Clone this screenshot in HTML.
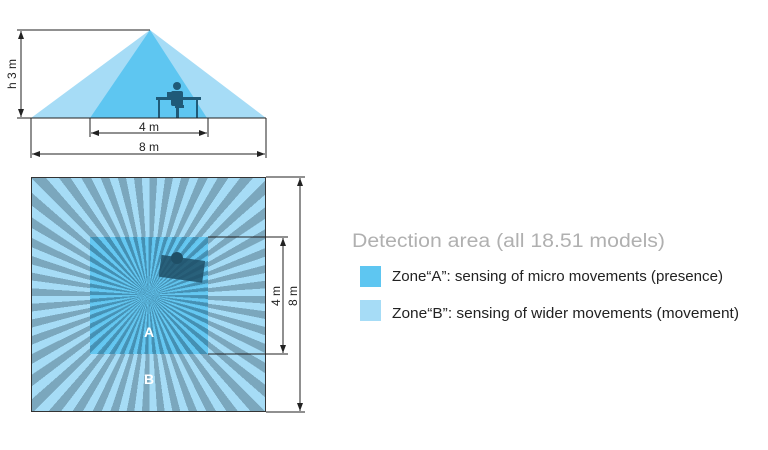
<!DOCTYPE html>
<html><head><meta charset="utf-8"><style>
body{margin:0;width:768px;height:450px;background:#fff;position:relative;overflow:hidden;font-family:"Liberation Sans",sans-serif}
#B{position:absolute;left:31px;top:177px;width:235px;height:235px;box-sizing:border-box;border:1px solid #333;
background:repeating-conic-gradient(from 0deg at 117.5px 118px,#7ba7bd 0deg 3.75deg,#a6dcf6 3.75deg 7.5deg)}
#A{position:absolute;left:90px;top:237px;width:118px;height:117px;
background:repeating-conic-gradient(from 0deg at 58.5px 58px,#3e8db2 0deg 3.75deg,#5ec6f1 3.75deg 7.5deg);opacity:.9}
svg{position:absolute;left:0;top:0}
</style></head><body>
<div id="B"></div><div id="A"></div>
<svg width="768" height="450" viewBox="0 0 768 450">
<defs><marker id="ar" markerWidth="8" markerHeight="6" refX="8" refY="3" orient="auto-start-reverse" markerUnits="userSpaceOnUse"><path d="M0,0L8,3L0,6z" fill="#222"/></marker></defs>
<polygon points="150,30 31,118 266,118" fill="#a6dcf6"/>
<polygon points="150,30 90,118 207,118" fill="#5ec6f1"/>
<g fill="#1f5a78">
<circle cx="177" cy="86" r="4"/><rect x="171" y="91" width="12" height="15" rx="2"/>
<rect x="156" y="97" width="45" height="3"/><rect x="158" y="100" width="2" height="18"/><rect x="196" y="100" width="2" height="18"/>
<rect x="167" y="92" width="7" height="6"/><rect x="175" y="105" width="9" height="3"/><rect x="176" y="108" width="3" height="10"/>
</g>
<g stroke="#222" stroke-width="1" fill="none">
<line x1="17" y1="30" x2="150" y2="30"/><line x1="17" y1="118" x2="31" y2="118"/>
<line x1="21" y1="31" x2="21" y2="117" marker-start="url(#ar)" marker-end="url(#ar)"/>
<line x1="31" y1="118" x2="266" y2="118"/>
<line x1="90" y1="118" x2="90" y2="137"/><line x1="208" y1="118" x2="208" y2="137"/>
<line x1="91" y1="133" x2="207" y2="133" marker-start="url(#ar)" marker-end="url(#ar)"/>
<line x1="31" y1="118" x2="31" y2="158"/><line x1="266" y1="118" x2="266" y2="158"/>
<line x1="32" y1="154" x2="265" y2="154" marker-start="url(#ar)" marker-end="url(#ar)"/>
<line x1="266" y1="177" x2="305" y2="177"/><line x1="266" y1="412" x2="305" y2="412"/>
<line x1="300" y1="178" x2="300" y2="411" marker-start="url(#ar)" marker-end="url(#ar)"/>
<line x1="208" y1="237" x2="288" y2="237"/><line x1="208" y1="354" x2="288" y2="354"/>
<line x1="283" y1="238" x2="283" y2="353" marker-start="url(#ar)" marker-end="url(#ar)"/>
</g>
<g font-size="12" fill="#222" font-family="Liberation Sans,sans-serif">
<text x="149" y="131" text-anchor="middle">4 m</text>
<text x="149" y="151" text-anchor="middle">8 m</text>
<text transform="translate(16,74) rotate(-90)" text-anchor="middle">h 3 m</text>
<text transform="translate(280,296) rotate(-90)" text-anchor="middle">4 m</text>
<text transform="translate(297,296) rotate(-90)" text-anchor="middle">8 m</text>
</g>
<g transform="rotate(8 183 268)"><rect x="160" y="258" width="44" height="22" fill="#1f4f66" opacity=".85"/></g>
<circle cx="177" cy="258" r="6" fill="#1f4f66"/>
<g fill="#fff" font-weight="bold" font-size="14"><text x="149" y="337" text-anchor="middle">A</text><text x="149" y="384" text-anchor="middle">B</text></g>
<text x="352" y="247" font-size="19" fill="#b0b0b0" textLength="313" lengthAdjust="spacingAndGlyphs">Detection area (all 18.51 models)</text>
<rect x="360" y="266" width="21" height="21" fill="#5ec6f1"/>
<rect x="360" y="300" width="21" height="21" fill="#a6dcf6"/>
<text x="392" y="281" font-size="15" fill="#222" textLength="331" lengthAdjust="spacingAndGlyphs">Zone“A”: sensing of micro movements (presence)</text>
<text x="392" y="318" font-size="15" fill="#222" textLength="347" lengthAdjust="spacingAndGlyphs">Zone“B”: sensing of wider movements (movement)</text>
</svg>
</body></html>
